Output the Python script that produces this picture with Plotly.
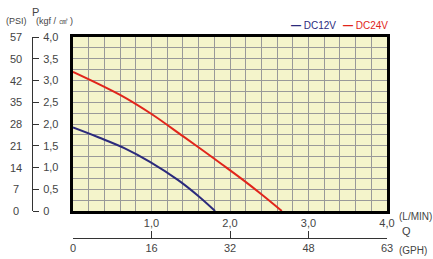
import plotly.graph_objects as go

# ---- data ----
q_12v = [0, 0.33, 0.66, 0.98, 1.34, 1.6, 1.81]
p_12v = [1.92, 1.69, 1.44, 1.13, 0.71, 0.34, 0]
q_24v = [0, 0.6, 1.0, 1.4, 1.66, 1.9, 2.17, 2.4, 2.66]
p_24v = [3.20, 2.67, 2.23, 1.72, 1.385, 1.07, 0.71, 0.385, 0]
series_names = ["DC12V", "DC24V"]
series_colors = ["#2b2a7c", "#e1251b"]

kgf_ticks = [0, 0.5, 1.0, 1.5, 2.0, 2.5, 3.0, 3.5, 4.0]
kgf_labels = ["0", "0,5", "1,0", "1,5", "2,0", "2,5", "3,0", "3,5", "4,0"]
psi_labels = ["0", "7", "14", "21", "28", "35", "42", "50", "57"]
lmin_ticks = [1, 2, 3, 4]
lmin_labels = ["1,0", "2,0", "3,0", "4,0"]
gph_ticks = [0, 1, 2, 3, 4]
gph_labels = ["0", "16", "32", "48", "63"]

W, H = 433, 259
FONT = "Liberation Sans Narrow, Arial Narrow, Liberation Sans, Arial, sans-serif"
TXT = "#444444"

def px_x(p):
    return p / W

def px_y(p):
    return (H - p) / H

fig = go.Figure()
fig.add_trace(go.Scatter(x=q_12v, y=p_12v, mode="lines", line=dict(color=series_colors[0], width=2, shape="spline"),
                         name=series_names[0], showlegend=False))
fig.add_trace(go.Scatter(x=q_24v, y=p_24v, mode="lines", line=dict(color=series_colors[1], width=2, shape="spline"),
                         name=series_names[1], showlegend=False))
# invisible traces to bind the extra axes
fig.add_trace(go.Scatter(x=[0], y=[0], xaxis="x2", yaxis="y", mode="markers", marker=dict(opacity=0), showlegend=False, hoverinfo="skip"))
fig.add_trace(go.Scatter(x=[0], y=[0], xaxis="x", yaxis="y2", mode="markers", marker=dict(opacity=0), showlegend=False, hoverinfo="skip"))

grid_x = [round(i * 0.2, 2) for i in range(21)]
grid_y = [round(i * 0.25, 2) for i in range(17)]
xlabels = []
for v in grid_x:
    if v in lmin_ticks:
        xlabels.append(lmin_labels[lmin_ticks.index(v)])
    else:
        xlabels.append("")

x0, x1 = px_x(73), px_x(387)
y0, y1 = px_y(211), px_y(37)

fig.update_layout(
    width=W, height=H,
    margin=dict(l=0, r=0, t=0, b=0, autoexpand=False),
    paper_bgcolor="white",
    plot_bgcolor="#f4f4cb",
    font=dict(family=FONT, size=11, color=TXT),
    xaxis=dict(domain=[x0, x1], range=[0, 4], tickvals=grid_x, ticktext=xlabels,
               showgrid=True, gridcolor="#999999", gridwidth=1, zeroline=False,
               showline=True, linecolor="black", linewidth=2.5, mirror=True, ticks="",
               tickfont=dict(size=11, color=TXT), anchor="y", automargin=False),
    yaxis=dict(domain=[y0, y1], range=[0, 4], tickvals=grid_y, showticklabels=False,
               showgrid=True, gridcolor="#999999", gridwidth=1, zeroline=False,
               showline=True, linecolor="black", linewidth=2.5, mirror=True, ticks="", anchor="x",
               automargin=False),
    xaxis2=dict(overlaying="x", anchor="free", position=px_y(238), side="bottom", range=[0, 4],
                tickvals=gph_ticks, ticktext=gph_labels, ticks="inside", ticklen=7, tickcolor="#333333",
                showline=True, linecolor="#333333", linewidth=1, showgrid=False, zeroline=False,
                tickfont=dict(size=11, color=TXT), automargin=False),
    yaxis2=dict(overlaying="y", anchor="free", position=px_x(32), side="right", range=[0, 4],
                tickvals=kgf_ticks, ticktext=kgf_labels, ticks="outside", ticklen=6, tickcolor="#333333",
                showline=True, linecolor="#333333", linewidth=1, showgrid=False, zeroline=False,
                tickfont=dict(size=11, color=TXT), ticklabelstandoff=2, automargin=False),
    showlegend=False,
)

ann = []
for v, t in zip(kgf_ticks, psi_labels):
    ann.append(dict(x=px_x(16), xref="paper", y=v, yref="y", text=t, showarrow=False,
                    xanchor="center", yanchor="middle", font=dict(size=11, color=TXT)))
ann += [
    dict(x=px_x(35), y=px_y(12), xref="paper", yref="paper", text="P", showarrow=False,
         xanchor="center", yanchor="middle", font=dict(size=11, color=TXT)),
    dict(x=px_x(34), y=px_y(21), xref="paper", yref="paper", text="(kgf / ㎠ )", showarrow=False,
         xanchor="left", yanchor="middle", font=dict(size=9, color=TXT)),
    dict(x=px_x(16), y=px_y(21), xref="paper", yref="paper", text="(PSI)", showarrow=False,
         xanchor="center", yanchor="middle", font=dict(size=9, color=TXT)),
    dict(x=px_x(397), y=px_y(216), xref="paper", yref="paper", text="(L/MIN)", showarrow=False,
         xanchor="left", yanchor="middle", font=dict(size=10, color=TXT)),
    dict(x=px_x(406), y=px_y(231), xref="paper", yref="paper", text="Q", showarrow=False,
         xanchor="center", yanchor="middle", font=dict(size=11, color=TXT)),
    dict(x=px_x(397), y=px_y(250), xref="paper", yref="paper", text="(GPH)", showarrow=False,
         xanchor="left", yanchor="middle", font=dict(size=10, color=TXT)),
]
leg_x = [289, 341]
for name, col, lx in zip(series_names, series_colors, leg_x):
    ann.append(dict(x=px_x(lx), y=px_y(25), xref="paper", yref="paper",
                    text="<b>—</b> " + name, showarrow=False, xanchor="left", yanchor="middle",
                    font=dict(size=10, color=col)))
fig.update_layout(annotations=ann)

fig.write_html("out.html", config={"displayModeBar": False},
               post_script="document.body.style.margin='0';document.body.style.padding='0';")
